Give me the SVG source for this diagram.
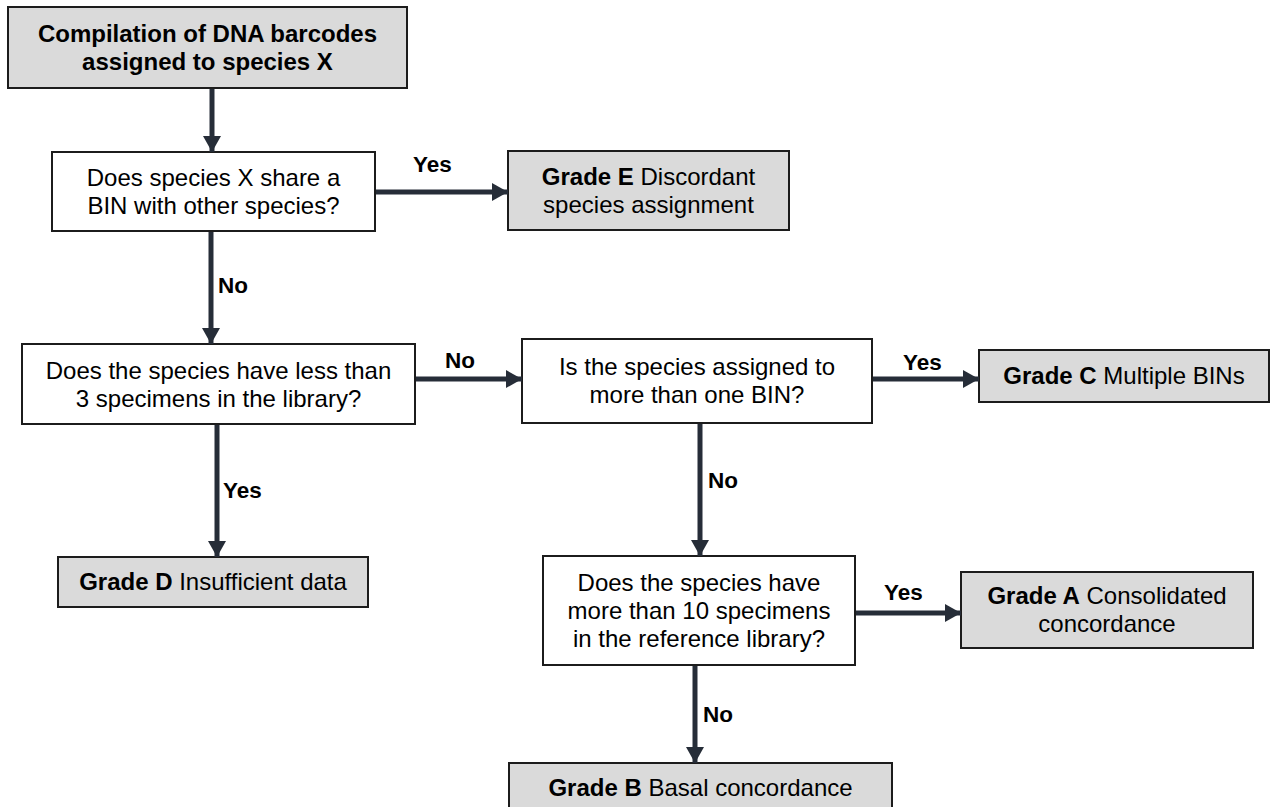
<svg xmlns="http://www.w3.org/2000/svg" width="1273" height="807" viewBox="0 0 1273 807">
<defs>
<marker id="ah" markerUnits="userSpaceOnUse" markerWidth="16" markerHeight="18" refX="16" refY="9" orient="auto">
<path d="M0,0 L16,9 L0,18 z" fill="#262d38"/>
</marker>
<style>
.q{fill:#ffffff;stroke:#1c1c1c;stroke-width:2}
.g{fill:#dadada;stroke:#1c1c1c;stroke-width:2}
text{font-family:"Liberation Sans",Arial,sans-serif;fill:#000}
.t{font-size:24px;text-anchor:middle}
.b{font-weight:bold}
.lbl{font-size:22.5px;font-weight:bold}
.c{stroke:#262d38;stroke-width:5;fill:none;marker-end:url(#ah)}
</style>
</defs>
<rect width="1273" height="807" fill="#ffffff"/>
<g id="start">
<rect class="g" x="8" y="7" width="399" height="81"/>
<text class="t b" x="207.5" y="42">Compilation of DNA barcodes</text>
<text class="t b" x="207.5" y="70">assigned to species X</text>
</g>
<g id="q1">
<rect class="q" x="52" y="152" width="323" height="79"/>
<text class="t" x="213.5" y="186">Does species X share a</text>
<text class="t" x="213.5" y="214">BIN with other species?</text>
</g>
<g id="gradeE">
<rect class="g" x="508" y="151" width="281" height="79"/>
<text class="t" x="648.5" y="185"><tspan class="b">Grade E</tspan> Discordant</text>
<text class="t" x="648.5" y="213">species assignment</text>
</g>
<g id="q2">
<rect class="q" x="22" y="344" width="393" height="80"/>
<text class="t" x="218.5" y="379">Does the species have less than</text>
<text class="t" x="218.5" y="407">3 specimens in the library?</text>
</g>
<g id="gradeD">
<rect class="g" x="58" y="557" width="310" height="50"/>
<text class="t" x="213" y="590"><tspan class="b">Grade D</tspan> Insufficient data</text>
</g>
<g id="q3">
<rect class="q" x="522" y="339" width="350" height="84"/>
<text class="t" x="697" y="375">Is the species assigned to</text>
<text class="t" x="697" y="403">more than one BIN?</text>
</g>
<g id="gradeC">
<rect class="g" x="979" y="350" width="290" height="52"/>
<text class="t" x="1124" y="384"><tspan class="b">Grade C</tspan> Multiple BINs</text>
</g>
<g id="q4">
<rect class="q" x="543" y="556" width="312" height="109"/>
<text class="t" x="699" y="591">Does the species have</text>
<text class="t" x="699" y="619">more than 10 specimens</text>
<text class="t" x="699" y="647">in the reference library?</text>
</g>
<g id="gradeA">
<rect class="g" x="961" y="572" width="292" height="76"/>
<text class="t" x="1107" y="604"><tspan class="b">Grade A</tspan> Consolidated</text>
<text class="t" x="1107" y="632">concordance</text>
</g>
<g id="gradeB">
<rect class="g" x="509" y="763" width="383" height="52"/>
<text class="t" x="700.5" y="796"><tspan class="b">Grade B</tspan> Basal concordance</text>
</g>
<g id="connectors">
<line class="c" x1="212" y1="89" x2="212" y2="152"/>
<line class="c" x1="376" y1="192" x2="508" y2="192"/>
<line class="c" x1="211" y1="232" x2="211" y2="344"/>
<line class="c" x1="416" y1="379" x2="522" y2="379"/>
<line class="c" x1="217" y1="425" x2="217" y2="557"/>
<line class="c" x1="873" y1="379" x2="979" y2="379"/>
<line class="c" x1="700" y1="424" x2="700" y2="556"/>
<line class="c" x1="856" y1="613" x2="961" y2="613"/>
<line class="c" x1="695" y1="666" x2="695" y2="763"/>
<text class="lbl" x="413" y="172">Yes</text>
<text class="lbl" x="218" y="293">No</text>
<text class="lbl" x="445" y="368">No</text>
<text class="lbl" x="223" y="498">Yes</text>
<text class="lbl" x="903" y="370">Yes</text>
<text class="lbl" x="708" y="488">No</text>
<text class="lbl" x="884" y="600">Yes</text>
<text class="lbl" x="703" y="722">No</text>
</g>
</svg>
